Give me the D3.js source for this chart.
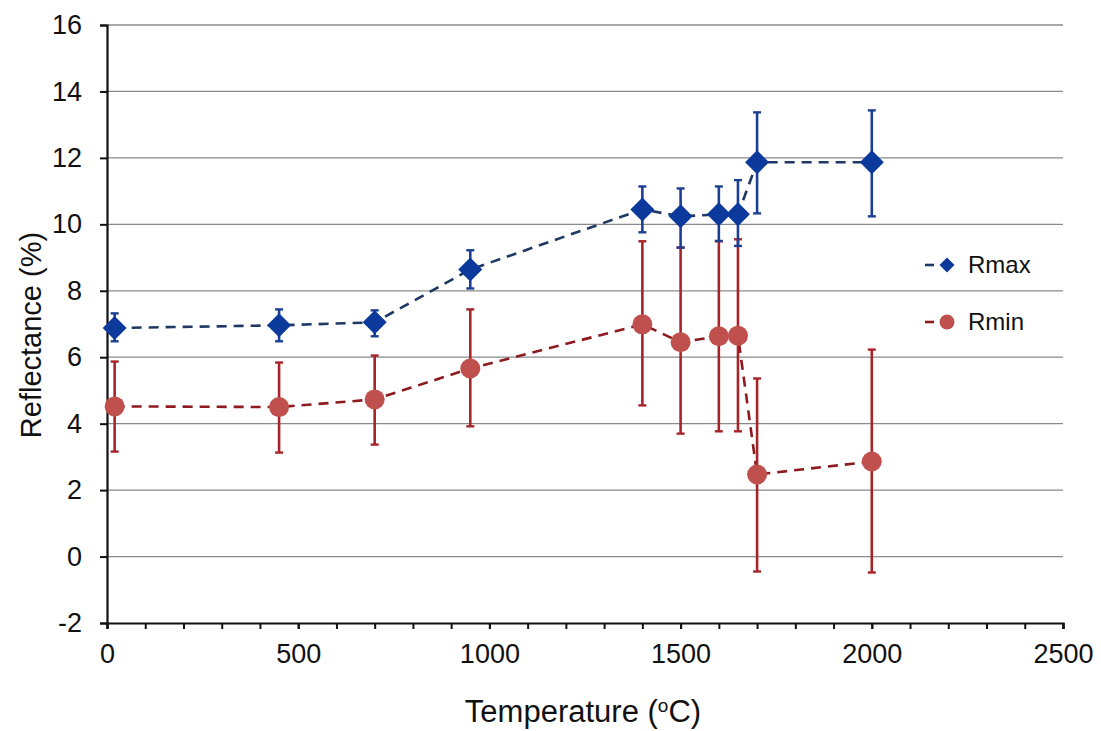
<!DOCTYPE html>
<html>
<head>
<meta charset="utf-8">
<script src="https://cdn.jsdelivr.net/npm/d3@7"></script>
<style>
  body { margin: 0; background: #fff; }
  text { font-family: "Liberation Sans", Arial, sans-serif; fill: #111; }
</style>
</head>
<body>
<svg width="1101" height="731"></svg>
<script>
// temperatures (°C)
const temps = [20, 450, 700, 950, 1400, 1500, 1600, 1650, 1700, 2000];
// Rmax series with error bar ends
const rmax = [6.88, 6.96, 7.05, 8.64, 10.45, 10.24, 10.3, 10.3, 11.87, 11.87];
const rmaxLo = [6.48, 6.48, 6.63, 8.07, 9.76, 9.3, 9.5, 9.35, 10.33, 10.24];
const rmaxHi = [7.32, 7.44, 7.41, 9.22, 11.14, 11.08, 11.14, 11.33, 13.37, 13.43];
// Rmin series with error bar ends
const rmin = [4.52, 4.5, 4.73, 5.66, 6.99, 6.45, 6.63, 6.65, 2.47, 2.86];
const rminLo = [3.16, 3.13, 3.37, 3.92, 4.55, 3.7, 3.77, 3.77, -0.45, -0.48];
const rminHi = [5.87, 5.84, 6.05, 7.44, 9.49, 9.3, 9.49, 9.55, 5.36, 6.23];

const yTicks = [-2, 0, 2, 4, 6, 8, 10, 12, 14, 16];
const xTicks = [0, 500, 1000, 1500, 2000, 2500];
const xMinor = d3.range(0, 2501, 100);

const plotLeft = 107, plotRight = 1063, plotTop = 25, plotBottom = 623;

const svg = d3.select('svg');

const x = d3.scaleLinear().domain([0, 2500]).range([plotLeft, plotRight]);
const y = d3.scaleLinear().domain([-2, 16]).range([plotBottom, plotTop]);

// gridlines
svg.append('g')
  .selectAll('line')
  .data(yTicks.filter(d => d > -2))
  .enter().append('line')
  .attr('x1', plotLeft).attr('x2', plotRight)
  .attr('y1', d => y(d)).attr('y2', d => y(d))
  .attr('stroke', '#8a8a8a').attr('stroke-width', 1.3);

// y axis
const yAxis = svg.append('g')
  .attr('transform', `translate(${plotLeft},0)`)
  .call(d3.axisLeft(y).tickValues(yTicks).tickSize(7).tickPadding(18).tickFormat(d => String(d)));
yAxis.select('.domain').attr('stroke', '#111').attr('stroke-width', 2.2);
yAxis.selectAll('.tick line').attr('stroke', '#111').attr('stroke-width', 2);
yAxis.selectAll('.tick text')
  .style('font-size', '27px').style('font-family', '"Liberation Sans", Arial, sans-serif')
  .attr('fill', '#111');

// x axis, minor ticks first
const xMinorAxis = svg.append('g')
  .attr('transform', `translate(0,${plotBottom})`)
  .call(d3.axisBottom(x).tickValues(xMinor).tickSize(6).tickFormat(''));
xMinorAxis.select('.domain').remove();
xMinorAxis.selectAll('.tick line').attr('stroke', '#111').attr('stroke-width', 2);

const xAxis = svg.append('g')
  .attr('transform', `translate(0,${plotBottom})`)
  .call(d3.axisBottom(x).tickValues(xTicks).tickSize(6).tickPadding(15).tickFormat(d => String(d)));
xAxis.select('.domain').attr('stroke', '#111').attr('stroke-width', 2.2);
xAxis.selectAll('.tick line').attr('stroke', '#111').attr('stroke-width', 2);
xAxis.selectAll('.tick text')
  .style('font-size', '27px').style('font-family', '"Liberation Sans", Arial, sans-serif')
  .attr('fill', '#111');

// axis titles
svg.append('text')
  .attr('transform', `translate(41, 335) rotate(-90)`)
  .attr('text-anchor', 'middle')
  .style('font-size', '29px')
  .text('Reflectance (%)');

const xt = svg.append('text')
  .attr('x', 583).attr('y', 722)
  .attr('text-anchor', 'middle')
  .style('font-size', '31px');
xt.append('tspan').text('Temperature (');
xt.append('tspan').style('font-size', '19px').attr('dy', -10).text('o');
xt.append('tspan').attr('dy', 10).text('C)');

function drawSeries(vals, lo, hi, lineColor, barColor) {
  const g = svg.append('g');
  const pts = temps.map((t, i) => ({ t: t, v: vals[i], lo: lo[i], hi: hi[i] }));
  g.append('path')
    .datum(pts)
    .attr('fill', 'none')
    .attr('stroke', lineColor)
    .attr('stroke-width', 2.6)
    .attr('stroke-dasharray', '10,7')
    .attr('d', d3.line().x(d => x(d.t)).y(d => y(d.v)));
  const eb = g.selectAll('.eb').data(pts).enter().append('g');
  eb.append('line')
    .attr('x1', d => x(d.t)).attr('x2', d => x(d.t))
    .attr('y1', d => y(d.lo)).attr('y2', d => y(d.hi))
    .attr('stroke', barColor).attr('stroke-width', 2.6);
  eb.append('line')
    .attr('x1', d => x(d.t) - 4).attr('x2', d => x(d.t) + 4)
    .attr('y1', d => y(d.lo)).attr('y2', d => y(d.lo))
    .attr('stroke', barColor).attr('stroke-width', 2.4);
  eb.append('line')
    .attr('x1', d => x(d.t) - 4).attr('x2', d => x(d.t) + 4)
    .attr('y1', d => y(d.hi)).attr('y2', d => y(d.hi))
    .attr('stroke', barColor).attr('stroke-width', 2.4);
  return { g: g, pts: pts };
}

const sMin = drawSeries(rmin, rminLo, rminHi, '#8c1a1e', '#a8242a');
sMin.g.selectAll('.pt').data(sMin.pts).enter().append('circle')
  .attr('cx', d => x(d.t)).attr('cy', d => y(d.v)).attr('r', 10)
  .attr('fill', '#c0504d');

const sMax = drawSeries(rmax, rmaxLo, rmaxHi, '#1f3864', '#1c3f94');
sMax.g.selectAll('.pt').data(sMax.pts).enter().append('path')
  .attr('transform', d => `translate(${x(d.t)},${y(d.v)})`)
  .attr('d', 'M0,-12L12,0L0,12L-12,0Z')
  .attr('fill', '#0b3a9c');

// legend
const legend = svg.append('g');
const legendItems = [
  { name: 'Rmax', yy: 265, line: '#1f3864', fill: '#0b3a9c', shape: 'diamond' },
  { name: 'Rmin', yy: 322, line: '#8c1a1e', fill: '#c0504d', shape: 'circle' }
];
legendItems.forEach(it => {
  legend.append('line')
    .attr('x1', 925).attr('x2', 934).attr('y1', it.yy).attr('y2', it.yy)
    .attr('stroke', it.line).attr('stroke-width', 2.6);
  if (it.shape === 'diamond') {
    legend.append('path')
      .attr('transform', `translate(947,${it.yy})`)
      .attr('d', 'M0,-7.5L7.5,0L0,7.5L-7.5,0Z').attr('fill', it.fill);
  } else {
    legend.append('circle').attr('cx', 947).attr('cy', it.yy).attr('r', 7.5).attr('fill', it.fill);
  }
  legend.append('text')
    .attr('x', 968).attr('y', it.yy + 8)
    .style('font-size', '24px').attr('fill', '#333')
    .text(it.name);
});
</script>
</body>
</html>
